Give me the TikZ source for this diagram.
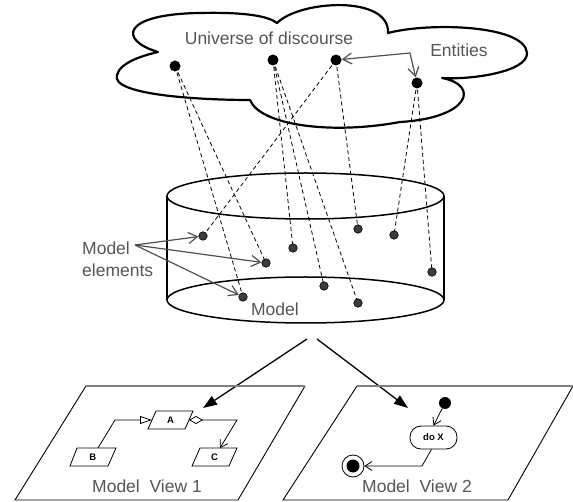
\documentclass[tikz,border=0pt]{standalone}
\usepackage{fontspec}
\setmainfont{Liberation Sans}
\usetikzlibrary{arrows.meta}
\definecolor{txtgray}{RGB}{85,85,85}
\definecolor{argray}{RGB}{80,80,80}
\definecolor{elemfill}{RGB}{60,60,60}
\definecolor{planegray}{RGB}{128,128,128}
\begin{document}
\begin{tikzpicture}[x=1pt,y=-1pt,
  cloudline/.style={line width=2.2pt, line join=round},
  dline/.style={line width=0.8pt, dash pattern=on 4pt off 3pt},
  edot/.style={circle, fill=black, inner sep=0pt, minimum size=11pt},
  mdot/.style={circle, fill=elemfill, draw=black, line width=0.6pt, inner sep=0pt, minimum size=8.5pt},
  lbl/.style={text=txtgray, font=\fontsize{17.5}{22}\selectfont, inner sep=0pt},
  garrow/.style={draw=argray, line width=1.2pt, -{Straight Barb[length=9pt,width=11pt]}},
  bigarrow/.style={line width=1.3pt, -{Triangle[length=14pt,width=10pt]}},
  cyl/.style={line width=1.5pt},
  planeedge/.style={line width=0.9pt},
  planetop/.style={draw=planegray, line width=2pt},
  umlline/.style={line width=0.8pt},
  boxtxt/.style={font=\fontsize{9.5}{10}\selectfont\bfseries, inner sep=0pt},
  barb/.style={-{Straight Barb[length=7pt,width=9pt]}}
]
\useasboundingbox (0,0) rectangle (573,502);

% ---- cloud ----
\draw[cloudline] (158,52)
  .. controls (118,40) and (122,14) .. (200,13)
  .. controls (245,12) and (268,16) .. (277,23)
  .. controls (300,0) and (390,-5) .. (388,33)
  .. controls (430,22) and (525,25) .. (527,53)
  .. controls (528,72) and (470,80) .. (442,78)
  .. controls (480,85) and (470,118) .. (400,122)
  .. controls (330,135) and (260,125) .. (250,100)
  .. controls (200,100) and (110,95) .. (117,75)
  .. controls (120,62) and (145,55) .. (158,52) -- cycle;
\node[lbl] (uod) at (269,38) {Universe of discourse};
\node[lbl] (ent) at (459,50) {Entities};

% ---- cylinder ----
\draw[cyl] (167,196) -- (167,300);
\draw[cyl] (444,196) -- (444,300);
\draw[cyl] (305.5,196) ellipse [x radius=138.5, y radius=23];
\draw[cyl] (305.5,300) ellipse [x radius=138.5, y radius=23];

% ---- entity and element positions ----
\coordinate (e1) at (175,66);
\coordinate (e2) at (273,60);
\coordinate (e3) at (336,60);
\coordinate (e4) at (417,83);
\coordinate (m1) at (203,236);
\coordinate (m2) at (266,263);
\coordinate (m3) at (243,297);
\coordinate (m4) at (293,248);
\coordinate (m5) at (358,229);
\coordinate (m6) at (394,235);
\coordinate (m7) at (432,272);
\coordinate (m8) at (324,286);
\coordinate (m9) at (358,303);

% ---- dashed mappings ----
\draw[dline] (e1) -- (m2);
\draw[dline] (e1) -- (m3);
\draw[dline] (e2) -- (m4);
\draw[dline] (e2) -- (m8);
\draw[dline] (e2) -- (m9);
\draw[dline] (e3) -- (m1);
\draw[dline] (e3) -- (m5);
\draw[dline] (e4) -- (m6);
\draw[dline] (e4) -- (m7);

% ---- dots ----
\node[edot] (E1) at (e1) {};
\node[edot] (E2) at (e2) {};
\node[edot] (E3) at (e3) {};
\node[edot] (E4) at (e4) {};
\foreach \m in {1,...,9} { \node[mdot] (M\m) at (m\m) {}; }

% ---- Entities arrows ----
\coordinate (entc) at (410,53);
\draw[draw=argray, line width=1.2pt, {Straight Barb[length=9pt,width=11pt]}-{Straight Barb[length=9pt,width=11pt]}] (E3) -- (entc) -- (E4);

% ---- Model elements ----
\node[lbl, anchor=west, align=left] (mel) at (82,259) {Model\\elements};
\coordinate (mlc) at (135,245);
\draw[garrow] (mlc) -- (M1);
\draw[garrow] (mlc) -- (M2);
\draw[garrow] (mlc) -- (M3);
\node[lbl] (mod) at (275,309) {Model};

% ---- big arrows ----
\coordinate (s1) at (307,339);
\coordinate (t1) at (203,408);
\coordinate (s2) at (317,339);
\coordinate (t2) at (408,408);
\draw[bigarrow] (s1) -- (t1);
\draw[bigarrow] (s2) -- (t2);

% ---- view planes ----
\draw[planeedge] (305,386) -- (238,500) -- (15,500) -- (86,386);
\draw[planetop] (86,386) -- (305,386);
\draw[planeedge] (573,386) -- (508,500) -- (283,500) -- (357,386);
\draw[planetop] (357,386) -- (573,386);
\node[lbl] (v1) at (147,486) {Model~~View 1};
\node[lbl] (v2) at (417,486) {Model~~View 2};

% ---- view 1: class diagram ----
\draw[umlline] (156,411) -- (193,411) -- (185,429) -- (148,429) -- cycle;
\node[boxtxt] (A) at (170.5,420) {A};
\draw[umlline] (77,448) -- (116,448) -- (108,466) -- (70,466) -- cycle;
\node[boxtxt] (B) at (92.75,457) {B};
\draw[umlline] (200,448) -- (237,448) -- (229,466) -- (192,466) -- cycle;
\node[boxtxt] (C) at (214.5,457) {C};
\coordinate (Bt) at (98,448);
\coordinate (Aw) at (152,420);
\coordinate (Ae) at (189,420);
\coordinate (Ct) at (220,448);
\draw[umlline, -{Triangle[open,length=12pt,width=8pt]}] (Bt) -- (115,420) -- (Aw);
\draw[umlline, {Diamond[open,length=14pt,width=8pt]}-{Straight Barb[length=7pt,width=9pt]}] (Ae) -- (237,420) -- (Ct);

% ---- view 2: activity diagram ----
\node[circle, fill=black, inner sep=0pt, minimum size=12pt] (st) at (445,403) {};
\node[draw, line width=0.8pt, rounded corners=11pt, minimum width=47pt, minimum height=23pt, inner sep=0pt, font=\fontsize{9.5}{10}\selectfont\bfseries] (dox) at (433.5,437.5) {do X};
\node[circle, draw, line width=0.8pt, inner sep=0pt, minimum size=22pt] (fin) at (353,466) {};
\fill (fin.center) circle (6.5pt);
\draw[umlline, barb] (st) -- (dox.north);
\draw[umlline, barb] ([xshift=-2pt]dox.south) -- (422,466) -- (fin);
\end{tikzpicture}
\end{document}
